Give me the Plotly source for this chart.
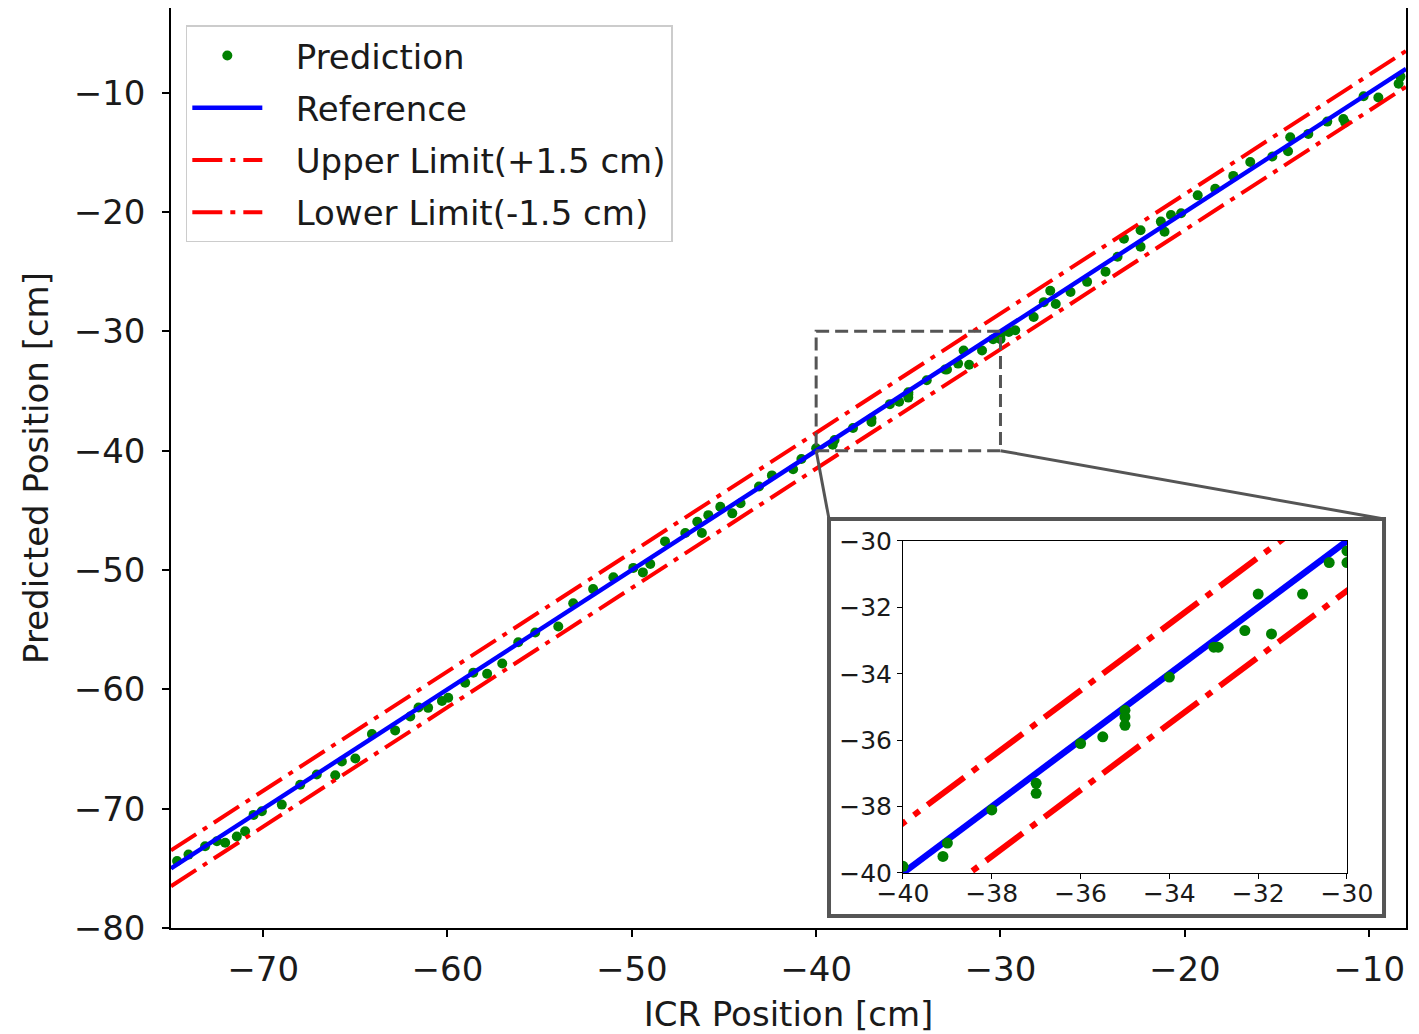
import plotly.graph_objects as go

# prediction points (ICR position, predicted position)
pred_x = [-74.67, -74.05, -73.15, -72.51, -72.06, -71.43, -70.98, -70.52, -70.07,
          -68.99, -67.99, -67.09, -66.09, -65.73, -65.0, -64.1, -62.84, -62.02,
          -61.57, -61.05, -60.3, -59.96, -59.04, -58.6, -57.85, -57.03, -56.16,
          -55.24, -53.99, -53.18, -52.1, -51.0, -49.92, -49.4, -49.0, -48.2,
          -47.1, -46.45, -46.2, -45.85, -45.2, -44.55, -44.1, -43.1, -42.4,
          -41.25, -40.8,
          -40.0, -39.1, -39.0, -38.0, -37.0, -37.0, -36.0, -35.5, -35.0, -35.0,
          -35.0, -34.0, -33.0, -32.9, -32.3, -32.0, -31.7, -31.0, -30.4, -30.0,
          -30.0,
          -29.55, -29.2, -28.2, -27.65, -27.3, -27.0, -26.2, -25.3, -24.3,
          -23.65, -23.3, -22.4, -22.4, -21.3, -21.1, -20.75, -20.2, -19.3,
          -18.35, -17.37, -16.45, -15.25, -14.4, -14.28, -13.3, -12.27, -11.4,
          -11.3, -10.3, -9.5, -8.4, -8.3]
pred_y = [-74.39, -73.85, -73.15, -72.73, -72.86, -72.33, -71.9, -70.52, -70.21,
          -69.66, -67.99, -67.14, -67.2, -66.05, -65.8, -63.74, -63.44, -62.27,
          -61.52, -61.55, -60.97, -60.71, -59.44, -58.6, -58.7, -57.83, -56.06,
          -55.24, -54.74, -52.78, -51.6, -50.6, -49.82, -50.2, -49.5, -47.6,
          -46.9, -45.95, -46.9, -45.4, -44.7, -45.25, -44.4, -43.0, -42.07,
          -41.55, -40.7,
          -39.8, -39.5, -39.1, -38.1, -37.3, -37.6, -36.1, -35.9, -35.1, -35.3,
          -35.55, -34.1, -33.2, -33.2, -32.7, -31.6, -32.8, -31.6, -30.65, -30.3,
          -30.65,
          -30.05, -29.9, -28.8, -27.55, -26.6, -27.7, -26.7, -25.85, -25.0,
          -23.75, -22.24, -21.53, -22.9, -20.8, -21.65, -20.25, -20.1, -18.6,
          -18.05, -16.97, -15.8, -15.35, -14.9, -13.73, -13.45, -12.42, -12.2,
          -12.5, -10.3, -10.4, -9.25, -8.65]

ref_x = [-75, -8]
ref_y = [-75, -8]
upper_y = [-73.5, -6.5]
lower_y = [-76.5, -9.5]

x_ticks = [-70, -60, -50, -40, -30, -20, -10]
y_ticks = [-80, -70, -60, -50, -40, -30, -20, -10]
inset_ticks = [-40, -38, -36, -34, -32, -30]

x_range = [-75, -8]
y_range = [-80, -2.9]
zoom_box = [-40, -30]

FONT = "DejaVu Sans"
TXT = "#1a1a1a"
FS = 34
PAD = "\u00a0\u00a0\u2009"  # gap between legend symbol and label

fig = go.Figure()

# main axes
fig.add_trace(go.Scatter(x=pred_x, y=pred_y, mode="markers", name=PAD + "Prediction",
                         marker=dict(color="green", size=10), legendgroup="a"))
fig.add_trace(go.Scatter(x=ref_x, y=ref_y, mode="lines", name=PAD + "Reference",
                         line=dict(color="blue", width=4.5), legendgroup="b"))
fig.add_trace(go.Scatter(x=ref_x, y=upper_y, mode="lines",
                         name=PAD + "Upper Limit(+1.5 cm)",
                         line=dict(color="red", width=4, dash="30px,8px,5px,8px"),
                         legendgroup="c"))
fig.add_trace(go.Scatter(x=ref_x, y=lower_y, mode="lines",
                         name=PAD + "Lower Limit(-1.5 cm)",
                         line=dict(color="red", width=4, dash="30px,8px,5px,8px"),
                         legendgroup="d"))

# inset
fig.add_trace(go.Scatter(x=ref_x, y=ref_y, mode="lines", xaxis="x2", yaxis="y2",
                         line=dict(color="blue", width=6.5), showlegend=False))
fig.add_trace(go.Scatter(x=ref_x, y=upper_y, mode="lines", xaxis="x2", yaxis="y2",
                         line=dict(color="red", width=6, dash="46px,10px,7px,10px"),
                         showlegend=False))
fig.add_trace(go.Scatter(x=ref_x, y=lower_y, mode="lines", xaxis="x2", yaxis="y2",
                         line=dict(color="red", width=6, dash="46px,10px,7px,10px"),
                         showlegend=False))
fig.add_trace(go.Scatter(x=pred_x, y=pred_y, mode="markers", xaxis="x2", yaxis="y2",
                         marker=dict(color="green", size=11), showlegend=False))

axis_common = dict(showgrid=False, zeroline=False, showline=True, linecolor="black",
                   mirror=True, ticks="outside", tickcolor="black", automargin=False)

# the page puts the figure 8px in from the top-left corner
fig.update_layout(
    width=1411, height=1026,
    margin=dict(l=163, r=13, t=0, b=106),
    paper_bgcolor="white", plot_bgcolor="rgba(0,0,0,0)",
    font=dict(family=FONT, color=TXT, size=FS),
    xaxis=dict(axis_common, range=x_range, tickvals=x_ticks, ticklen=7, tickwidth=1.5,
               linewidth=1.5, tickfont=dict(size=FS, color=TXT), ticklabelstandoff=3,
               title=dict(text="ICR Position [cm]", font=dict(size=FS, color=TXT),
                          standoff=18)),
    yaxis=dict(axis_common, range=y_range, tickvals=y_ticks, ticklen=7, tickwidth=1.5,
               linewidth=1.5, tickfont=dict(size=FS, color=TXT), ticklabelstandoff=10,
               title=dict(text="Predicted Position [cm]", font=dict(size=FS, color=TXT),
                          standoff=15)),
    xaxis2=dict(axis_common, domain=[0.5927, 0.9522], anchor="y2", range=zoom_box,
                tickvals=inset_ticks, ticklen=5, linewidth=1,
                tickfont=dict(size=25, color=TXT), ticklabelstandoff=-7),
    yaxis2=dict(axis_common, domain=[0.0598, 0.4207], anchor="x2", range=zoom_box,
                tickvals=inset_ticks, ticklen=5, linewidth=1,
                tickfont=dict(size=25, color=TXT), ticklabelstandoff=0),
    legend=dict(x=0.012, y=0.981, xanchor="left", yanchor="top",
                bgcolor="rgba(255,255,255,0.85)", bordercolor="#cccccc", borderwidth=1.5,
                font=dict(size=FS, color=TXT), itemwidth=70, tracegroupgap=5,
                traceorder="grouped"),
    showlegend=True,
)

# inset frame and zoom indicator
box = dict(x0=0.5328, x1=0.9822, y0=0.013, y1=0.4446)
fig.add_shape(type="rect", xref="paper", yref="paper", layer="below",
              fillcolor="white", line=dict(color="#555555", width=4), **box)
fig.add_shape(type="rect", xref="x", yref="y", x0=zoom_box[0], x1=zoom_box[1],
              y0=zoom_box[0], y1=zoom_box[1],
              line=dict(color="#555555", width=3, dash="13px,6px"))


def to_paper(x, y):
    return ((x - x_range[0]) / (x_range[1] - x_range[0]),
            (y - y_range[0]) / (y_range[1] - y_range[0]))


for corner_x, box_x in [(zoom_box[0], box["x0"]), (zoom_box[1], box["x1"])]:
    px, py = to_paper(corner_x, zoom_box[0])
    fig.add_shape(type="line", xref="paper", yref="paper", x0=px, y0=py,
                  x1=box_x, y1=box["y1"], line=dict(color="#555555", width=3))

fig.write_html("out.html")
